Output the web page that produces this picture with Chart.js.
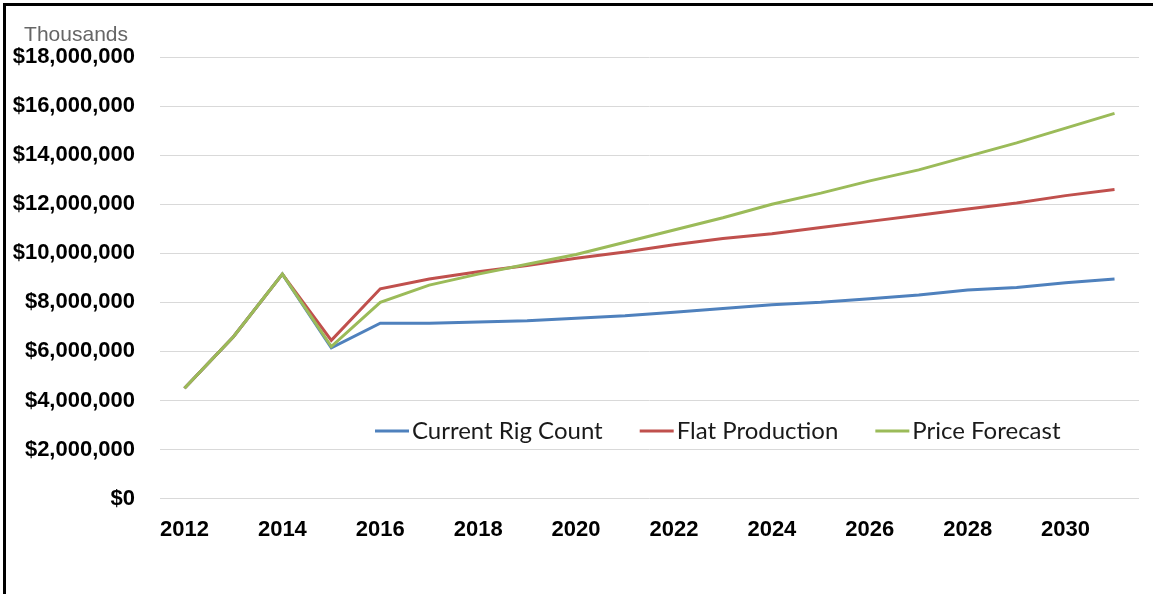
<!DOCTYPE html>
<html>

<head>
  <title>Revenue forecast</title>
  <script src="https://cdn.jsdelivr.net/npm/chart.js@4.4.0/dist/chart.umd.min.js"></script>
  <style>
    html, body { margin: 0; padding: 0; background: #fff; }
    #line-chart { position: absolute; left: 0; top: 0; }
    .frame-left { position: absolute; left: 3px; top: 3px; width: 3px; height: 591px; background: #000; }
    .frame-top { position: absolute; left: 3px; top: 3px; width: 1150px; height: 3px; background: #000; }
  </style>
</head>

<body>
  <canvas id="line-chart" width="1153" height="594"></canvas>
  <div class="frame-left"></div>
  <div class="frame-top"></div>
  <script>

    var years = ["2012", "2013", "2014", "2015", "2016", "2017", "2018", "2019", "2020", "2021",
      "2022", "2023", "2024", "2025", "2026", "2027", "2028", "2029", "2030", "2031"];

    // values in thousands of dollars
    var currentRigCount = [4500000, 6600000, 9150000, 6150000, 7150000, 7150000, 7200000, 7250000, 7350000, 7450000,
      7600000, 7750000, 7900000, 8000000, 8150000, 8300000, 8500000, 8600000, 8800000, 8950000];
    var flatProduction = [4500000, 6600000, 9150000, 6450000, 8550000, 8950000, 9250000, 9500000, 9800000, 10050000,
      10350000, 10600000, 10800000, 11050000, 11300000, 11550000, 11800000, 12050000, 12350000, 12600000];
    var priceForecast = [4500000, 6600000, 9150000, 6200000, 8000000, 8700000, 9150000, 9550000, 9950000, 10450000,
      10950000, 11450000, 12000000, 12450000, 12950000, 13400000, 13950000, 14500000, 15100000, 15700000];

    var axisTitle = "Thousands";
    var yMax = 18000000;
    var yStep = 2000000;

    var tickFont = { family: "'Liberation Sans', Arial, sans-serif", size: 22, weight: 'bold' };

    function money(v) {
      return '$' + v.toLocaleString('en-US');
    }

    // legend drawn inside the plot, below the lines
    var innerLegend = {
      id: 'innerLegend',
      afterDraw: function (chart) {
        var ctx = chart.ctx;
        var area = chart.chartArea;
        var x = area.left + 215;
        var y = area.top + 374;
        ctx.save();
        ctx.font = "24px Lato, 'Open Sans', sans-serif";
        ctx.textBaseline = 'middle';
        ctx.fillStyle = '#1a1a1a';
        chart.data.datasets.forEach(function (ds) {
          ctx.strokeStyle = ds.borderColor;
          ctx.lineWidth = 3;
          ctx.beginPath();
          ctx.moveTo(x, y);
          ctx.lineTo(x + 34, y);
          ctx.stroke();
          ctx.fillText(ds.label, x + 37, y);
          x += 37 + ctx.measureText(ds.label).width + 37;
        });

        // units caption over the y ticks
        var yScale = chart.scales.y;
        ctx.font = "21px 'Liberation Sans', Arial, sans-serif";
        ctx.fillStyle = '#666666';
        ctx.textBaseline = 'alphabetic';
        ctx.textAlign = 'right';
        ctx.fillText(axisTitle, yScale.right - 32, area.top - 16);
        ctx.restore();
      }
    };

    var chart = new Chart(document.getElementById("line-chart"), {
      type: 'line',
      data: {
        labels: years,
        datasets: [
          { label: 'Current Rig Count', data: currentRigCount, borderColor: '#4f81bd', order: 3 },
          { label: 'Flat Production', data: flatProduction, borderColor: '#c0504d', order: 2 },
          { label: 'Price Forecast', data: priceForecast, borderColor: '#9bbb59', order: 1 }
        ]
      },
      options: {
        responsive: false,
        animation: false,
        layout: { padding: { left: 10, right: 14, top: 57, bottom: 41 } },
        elements: {
          line: { borderWidth: 3, tension: 0 },
          point: { radius: 0 }
        },
        plugins: {
          legend: { display: false },
          tooltip: { enabled: false }
        },
        scales: {
          x: {
            offset: true,
            grid: { display: false },
            border: { display: false },
            ticks: {
              autoSkip: false,
              maxRotation: 0,
              padding: 10,
              color: '#000',
              font: tickFont,
              callback: function (v, i) { return i % 2 === 0 ? years[i] : ''; }
            }
          },
          y: {
            min: 0,
            max: yMax,
            afterFit: function (scale) { scale.width = 150; },
            grid: { color: '#d9d9d9', lineWidth: 1, drawTicks: false },
            border: { display: false },
            ticks: {
              stepSize: yStep,
              padding: 25,
              color: '#000',
              font: tickFont,
              callback: function (v) { return money(v); }
            }
          }
        }
      },
      plugins: [innerLegend]
    });

  </script>
</body>

</html>
